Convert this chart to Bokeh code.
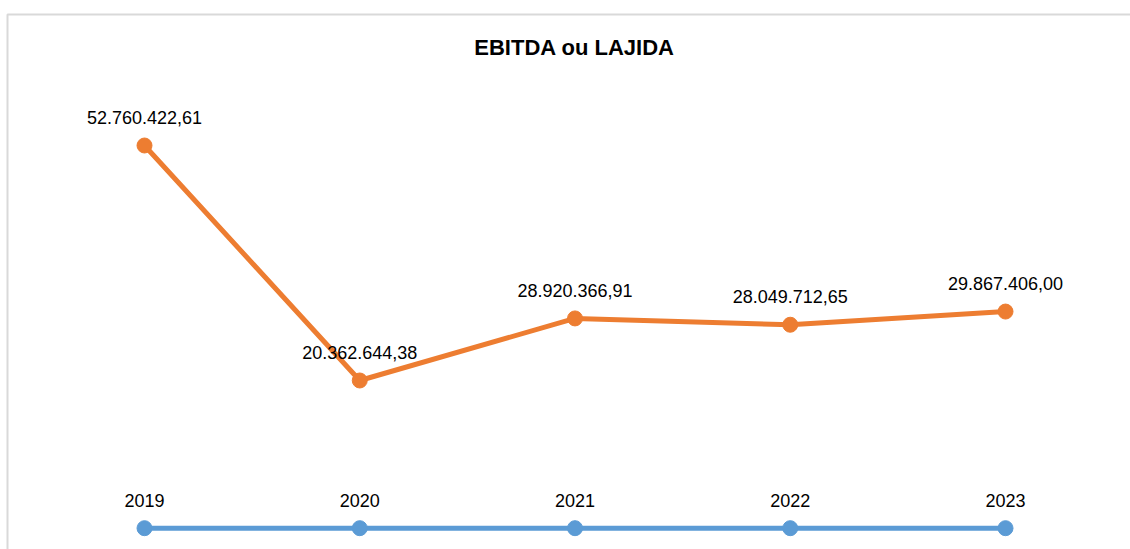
from bokeh.plotting import figure
from bokeh.models import Range1d, ColumnDataSource
from bokeh.core.properties import value
from bokeh.embed import file_html
from bokeh.resources import INLINE

# ---- data ----
years = ["2019", "2020", "2021", "2022", "2023"]
ebitda = [52760422.61, 20362644.38, 28920366.91, 28049712.65, 29867406.00]
ebitda_labels = ["52.760.422,61", "20.362.644,38", "28.920.366,91", "28.049.712,65", "29.867.406,00"]
year_values = [2019, 2020, 2021, 2022, 2023]
title_text = "EBITDA ou LAJIDA"

W, H = 1130, 549
ORANGE = "#ED7D31"
BLUE = "#5B9BD5"
FONT = value("Liberation Sans")

idx = list(range(len(years)))
src_o = ColumnDataSource(dict(x=idx, y=ebitda, lab=ebitda_labels))
src_b = ColumnDataSource(dict(x=idx, y=year_values, lab=years))

p = figure(width=W, height=H, output_backend="svg", toolbar_location=None,
           x_range=Range1d(-0.669, 4.5807), y_range=Range1d(-2.937e6, 72.751e6),
           min_border=0, min_border_left=0, min_border_right=0,
           min_border_top=0, min_border_bottom=0)
p.xaxis.visible = False
p.yaxis.visible = False
p.grid.visible = False
p.outline_line_color = None
p.background_fill_color = "white"
p.border_fill_color = "white"

# pixel-space ranges for decoration (chart border, title)
p.extra_x_ranges = {"px": Range1d(0, W)}
p.extra_y_ranges = {"px": Range1d(H, 0)}
p.line(x=[7, 7, W], y=[H, 14, 14], line_color="#d9d9d9", line_width=2,
       x_range_name="px", y_range_name="px")
p.text(x=[574], y=[46.5], text=[title_text], text_font=FONT, text_font_size="22px",
       text_font_style="bold", text_align="center", text_baseline="middle",
       text_color="#000000", x_range_name="px", y_range_name="px")

# blue series (years)
p.line("x", "y", source=src_b, line_color=BLUE, line_width=5)
p.scatter("x", "y", source=src_b, size=15, fill_color=BLUE, line_color=BLUE)
p.text("x", "y", text="lab", source=src_b, text_font=FONT, text_font_size="18px",
       text_align="center", text_baseline="middle", y_offset=-28, text_color="#000000")

# orange series (EBITDA)
p.line("x", "y", source=src_o, line_color=ORANGE, line_width=5)
p.scatter("x", "y", source=src_o, size=15, fill_color=ORANGE, line_color=ORANGE)
p.text("x", "y", text="lab", source=src_o, text_font=FONT, text_font_size="18px",
       text_align="center", text_baseline="middle", y_offset=-28, text_color="#000000")

open("out.html", "w").write(file_html(p, INLINE))
